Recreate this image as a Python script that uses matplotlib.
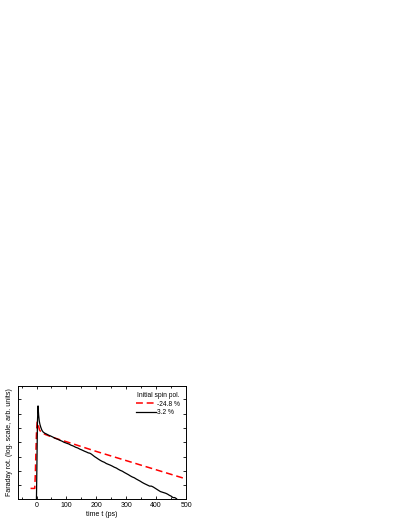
import numpy as np
import matplotlib
matplotlib.use("Agg")
import matplotlib.pyplot as plt

plt.rcParams['font.family'] = ['Liberation Sans', 'DejaVu Sans']

# time axis (ps) and log10 of the Faraday rotation signal (arb. units)
black_t = [-1, 1, 3, 5, 7, 9, 11, 14, 18, 22, 27, 33, 40, 47, 55, 62, 70, 78,
           85, 92, 100, 108, 115, 123, 130, 138, 145, 152, 160, 167, 173, 178,
           183, 188, 194, 200, 207, 213, 220, 227, 233, 240, 247, 253, 260, 267,
           273, 280, 287, 293, 300, 307, 313, 320, 327, 333, 340, 347, 353, 360,
           366, 372, 378, 384, 390, 396, 402, 408, 414, 420, 426, 432, 438, 444,
           450, 456, 462, 468, 472]
black_log = [-3.0, -1.5, 0.2, 0.77, 0.45, 0.25, 0.14, 0.03, -0.08, -0.14, -0.18,
             -0.21, -0.25, -0.28, -0.32, -0.36, -0.39, -0.43, -0.46, -0.50, -0.53,
             -0.56, -0.60, -0.63, -0.67, -0.70, -0.74, -0.77, -0.81, -0.84, -0.87,
             -0.88, -0.91, -0.95, -1.00, -1.04, -1.09, -1.13, -1.17, -1.20, -1.24,
             -1.27, -1.30, -1.33, -1.37, -1.40, -1.44, -1.48, -1.51, -1.55, -1.59,
             -1.63, -1.67, -1.71, -1.74, -1.78, -1.82, -1.86, -1.90, -1.94, -1.97,
             -2.00, -2.03, -2.03, -2.06, -2.10, -2.14, -2.18, -2.22, -2.24, -2.26,
             -2.28, -2.31, -2.35, -2.38, -2.43, -2.43, -2.47, -2.52]

red_t = [-20, -6, -4, -2, 0, 2, 4, 7, 10, 14, 20, 30, 50, 75, 100, 150, 200,
         250, 300, 350, 400, 450, 500]
red_log = [-2.11, -2.11, -1.6, -0.8, -0.1, 0.2, 0.22, 0.05, -0.07, -0.13, -0.18,
           -0.23, -0.31, -0.40, -0.48, -0.65, -0.82, -0.98, -1.14, -1.30, -1.46,
           -1.62, -1.78]

labels = ['-24.8 %', '3.2 %']
x_major = [0, 100, 200, 300, 400, 500]
x_minor = [-50, 50, 150, 250, 350, 450]
y_ticks_log = [-2, -1.5, -1, -0.5, 0, 0.5, 1]

fig = plt.figure(figsize=(4.09, 5.29), dpi=100)
ax = fig.add_axes([0.044, 0.0567, 0.411, 0.2136])

ax.plot(red_t, 10 ** np.array(red_log), color='#ff0000', lw=1.1,
        dashes=(4.5, 2.5), label=labels[0])
ax.plot(black_t, 10 ** np.array(black_log), color='black', lw=0.9,
        label=labels[1])

ax.set_yscale('log')
ax.set_xlim(-62, 500)
ax.set_ylim(10 ** -2.48, 10 ** 1.465)
ax.set_xticks(x_major)
ax.set_xticks(x_minor, minor=True)
ax.set_yticks(10 ** np.array(y_ticks_log))
ax.yaxis.set_minor_locator(matplotlib.ticker.NullLocator())
ax.set_yticklabels([])
ax.tick_params(which='both', direction='in', top=True, right=True,
               labelsize=5, pad=2, width=0.6)
ax.tick_params(which='major', length=2.5)
ax.tick_params(which='minor', length=1.5)
for s in ax.spines.values():
    s.set_linewidth(0.7)

ax.set_xlabel('time t (ps)', fontsize=5, labelpad=1.5)
ax.set_ylabel('Faraday rot. (log. scale, arb. units)', fontsize=5, labelpad=1.5)

leg = ax.legend(title='Initial spin pol.', loc='upper right', frameon=False,
                fontsize=4.8, title_fontsize=4.8, handlelength=3.0,
                handletextpad=0.2, labelspacing=0.25, borderaxespad=0.5)

fig.savefig('out.png', dpi=100)
